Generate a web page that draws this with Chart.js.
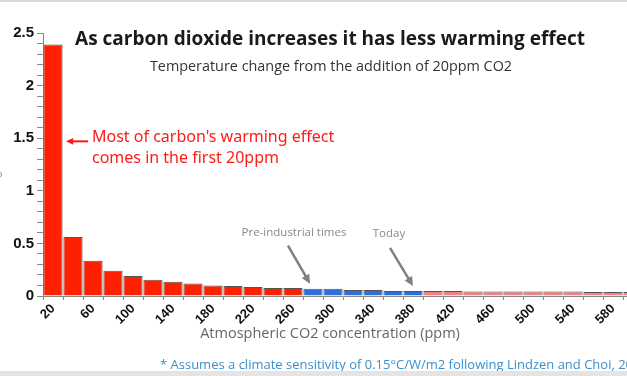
<!DOCTYPE html>
<html>
<head>
<meta charset="utf-8">
<script src="https://cdn.jsdelivr.net/npm/chart.js@4/dist/chart.umd.min.js"></script>
<style>
  html, body { margin: 0; padding: 0; background: #fff; overflow: hidden; }
  body { width: 627px; height: 376px; position: relative; }
  #topline { position: absolute; left: 0; top: 0; width: 627px; height: 2px; background: #d8d8d8; }
  #footband { position: absolute; left: 0; bottom: 0; width: 627px; height: 5px; background: #e4e4e4; }
  #wrap { position: absolute; left: -12px; top: 0; width: 672px; height: 376px; }
</style>
</head>
<body>
<div id="wrap"><canvas id="co2Chart" width="672" height="376"></canvas></div>
<div id="topline"></div>
<div id="footband"></div>
<script>
// CO2 level at the end of each 20ppm step
const ppm = ['20', '40', '60', '80', '100', '120', '140', '160', '180', '200',
  '220', '240', '260', '280', '300', '320', '340', '360', '380', '400',
  '420', '440', '460', '480', '500', '520', '540', '560', '580', '600'];
// warming (degrees C) from adding each 20ppm
const warming = [2.39, 0.56, 0.335, 0.24, 0.19, 0.155, 0.135, 0.12, 0.1, 0.095,
  0.085, 0.075, 0.075, 0.07, 0.07, 0.057, 0.057, 0.048, 0.048, 0.048,
  0.048, 0.043, 0.043, 0.043, 0.043, 0.043, 0.043, 0.038, 0.038, 0.038];
const yTicks = [0, 0.5, 1, 1.5, 2, 2.5];

const preIndustrial = '280';
const today = '380';

const OX = 12; // canvas sits 12px left of the page

function barColor(ctx) {
  const v = Number(ppm[ctx.dataIndex]);
  if (v < Number(preIndustrial)) return '#ff2000';
  if (v <= Number(today)) return '#2b6fdc';
  return '#f28282';
}

function arrow(c, x1, y1, x2, y2, color, w, head) {
  const a = Math.atan2(y2 - y1, x2 - x1);
  c.save();
  c.strokeStyle = color;
  c.fillStyle = color;
  c.lineWidth = w;
  c.beginPath();
  c.moveTo(x1, y1);
  c.lineTo(x2 - Math.cos(a) * head * 0.6, y2 - Math.sin(a) * head * 0.6);
  c.stroke();
  c.beginPath();
  c.moveTo(x2, y2);
  c.lineTo(x2 - head * Math.cos(a - 0.45), y2 - head * Math.sin(a - 0.45));
  c.lineTo(x2 - head * Math.cos(a + 0.45), y2 - head * Math.sin(a + 0.45));
  c.closePath();
  c.fill();
  c.restore();
}

const textLayer = {
  id: 'textLayer',
  afterDraw(chart) {
    const c = chart.ctx;
    const x = chart.scales.x;
    const y = chart.scales.y;
    c.save();
    c.textBaseline = 'middle';
    c.textAlign = 'center';

    c.fillStyle = '#1a1a1a';
    c.font = 'bold 19px "Open Sans"';
    c.fillText('As carbon dioxide increases it has less warming effect', 330 + OX, 40);
    c.fillStyle = '#333';
    c.font = '14.4px "Open Sans"';
    c.fillText('Temperature change from the addition of 20ppm CO2', 331 + OX, 67);

    c.fillStyle = '#666';
    c.font = '14.5px "Open Sans"';
    c.fillText('Atmospheric CO2 concentration (ppm)', 330 + OX, 334);

    c.fillStyle = '#3a8fcc';
    c.font = '13px "Open Sans"';
    c.textAlign = 'left';
    c.fillText('* Assumes a climate sensitivity of 0.15°C/W/m2 following Lindzen and Choi, 2009', 160 + OX, 365);

    // red note next to the first bar
    const b0 = x.getPixelForValue(0);
    const bw = x.getPixelForValue(1) - b0;
    const yNote = y.getPixelForValue(1.47);
    arrow(c, b0 + bw / 2 + 25, yNote, b0 + bw / 2 + 3, yNote, '#ff1a1a', 2, 8);
    c.fillStyle = '#ff1a1a';
    c.font = '16px "Noto Sans"';
    c.fillText("Most of carbon's warming effect", b0 + 39, yNote - 4);
    c.fillText('comes in the first 20ppm', b0 + 39, yNote + 17);

    // period markers
    c.fillStyle = '#888';
    c.font = '11.5px "Open Sans"';
    c.textAlign = 'center';
    const iPre = ppm.indexOf(preIndustrial);
    const iNow = ppm.indexOf(today);
    const xp = x.getPixelForValue(iPre) - 3;
    const yp = y.getPixelForValue(warming[iPre]) - 5;
    arrow(c, xp - 22, yp - 38, xp, yp, '#808080', 2.5, 10);
    c.fillText('Pre-industrial times', xp - 16, yp - 51);
    const xn = x.getPixelForValue(iNow);
    const yn = y.getPixelForValue(warming[iNow]) - 5;
    arrow(c, xn - 23, yn - 38, xn, yn, '#808080', 2.5, 10);
    c.fillText('Today', xn - 24, yn - 52);
    c.restore();
  }
};

const chart = new Chart(document.getElementById('co2Chart').getContext('2d'), {
  type: 'bar',
  data: {
    labels: ppm,
    datasets: [{
      label: 'Temperature change',
      data: warming,
      backgroundColor: barColor,
      borderColor: '#555',
      borderWidth: 1,
      barPercentage: 0.96,
      categoryPercentage: 1
    }]
  },
  options: {
    responsive: false,
    animation: false,
    layout: { padding: { top: 33, right: 17, left: 0, bottom: 0 } },
    plugins: {
      legend: { display: false },
      tooltip: { enabled: false }
    },
    scales: {
      x: {
        grid: { drawOnChartArea: false, tickLength: 4, color: '#888' },
        border: { color: '#888', width: 1 },
        ticks: {
          autoSkip: false,
          minRotation: 45,
          maxRotation: 45,
          padding: 1,
          color: '#111',
          font: { family: '"Liberation Sans"', size: 13, weight: 'bold' },
          callback: (v, i) => i % 2 === 0 ? ppm[i] : ''
        },
        afterFit: s => { s.height = 80; }
      },
      y: {
        min: 0,
        max: 2.5,
        grid: { drawOnChartArea: false, tickLength: 6, color: '#888' },
        border: { color: '#888', width: 1 },
        title: { display: true, text: 'Degrees C', color: '#999', font: { size: 12 }, padding: 0 },
        ticks: {
          stepSize: 0.1,
          autoSkip: false,
          padding: 3,
          color: '#111',
          font: { family: '"Liberation Sans"', size: 15, weight: 'bold' },
          callback: v => {
            const t = yTicks.find(k => Math.abs(k - v) < 1e-6);
            return t === undefined ? '' : String(t);
          }
        },
        afterFit: s => { s.width = 55; }
      }
    }
  },
  plugins: [textLayer]
});
</script>
</body>
</html>
